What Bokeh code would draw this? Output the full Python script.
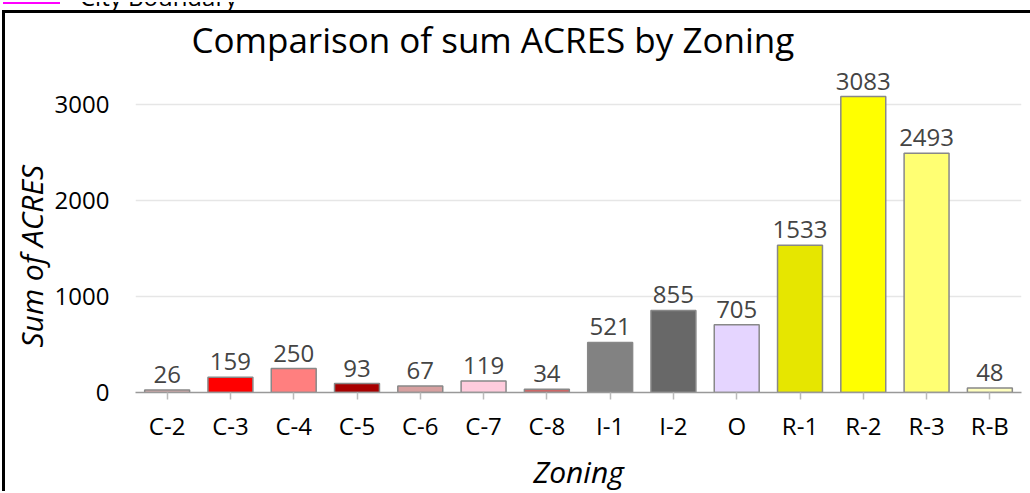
from bokeh.plotting import figure
from bokeh.models import ColumnDataSource, FactorRange, Range1d, FixedTicker, Title, Div
from bokeh.layouts import column
from bokeh.core.properties import value
from bokeh.embed import file_html
from bokeh.resources import INLINE

categories = ["C-2", "C-3", "C-4", "C-5", "C-6", "C-7", "C-8", "I-1", "I-2", "O", "R-1", "R-2", "R-3", "R-B"]
acres = [26, 159, 250, 93, 67, 119, 34, 521, 855, 705, 1533, 3083, 2493, 48]
colors = ["#E0B2B2", "#FF0000", "#FF7F7F", "#A80000", "#D7A0A0", "#FFCCDD", "#CD6666",
          "#828282", "#686868", "#E5D5FF", "#E6E600", "#FFFF00", "#FFFF73", "#FFFFBE"]
y_ticks = [0, 1000, 2000, 3000]
legend_label = "City Boundary"

FONT = "Open Sans"

src = ColumnDataSource(dict(cat=categories, val=acres, color=colors,
                            lab=[str(v) for v in acres]))

p = figure(x_range=FactorRange(*categories, range_padding=0), y_range=Range1d(0, 3438),
           width=1025, height=478, output_backend="svg", toolbar_location=None,
           min_border_left=130, min_border_right=12, min_border_top=45, min_border_bottom=102)
p.outline_line_color = None
p.background_fill_color = "white"
p.styles = {"border-left": "3px solid #000000", "border-top": "3px solid #000000",
            "margin-left": "2px", "box-sizing": "content-box"}

p.vbar(x="cat", top="val", width=0.71, source=src, fill_color="color",
       line_color="#888888", line_width=1.5)
p.text(x="cat", y="val", text="lab", source=src, text_align="center", text_baseline="bottom",
       y_offset=-7, text_color="#444444", text_font=value(FONT), text_font_size="24px")

p.title.text = "Comparison of sum ACRES by Zoning"
p.title.align = "left"
p.title.offset = 56
p.title.standoff = 0
p.title.text_font = FONT
p.title.text_font_size = "35px"
p.title.text_font_style = "normal"
p.title.text_color = "#000000"

ytitle = Title(text="Sum of ACRES", align="left", offset=45, standoff=0,
               text_font=FONT, text_font_size="30px", text_font_style="italic",
               text_color="#000000")
p.add_layout(ytitle, "left")

# axes
p.xgrid.grid_line_color = None
p.ygrid.grid_line_color = "#e6e6e6"
p.ygrid.grid_line_width = 1.5
p.yaxis.ticker = FixedTicker(ticks=y_ticks)
p.yaxis.axis_line_color = None
p.yaxis.major_tick_line_color = None
p.yaxis.major_tick_out = 0
p.yaxis.major_tick_in = 0
p.yaxis.minor_tick_line_color = None
p.yaxis.major_label_standoff = 26
p.yaxis.major_label_text_font = FONT
p.yaxis.major_label_text_font_size = "24px"
p.yaxis.major_label_text_color = "#000000"

p.xaxis.axis_line_color = "#999999"
p.xaxis.axis_line_width = 1.5
p.xaxis.major_tick_line_color = "#bbbbbb"
p.xaxis.major_tick_line_width = 1.5
p.xaxis.major_tick_out = 7
p.xaxis.major_tick_in = 0
p.xaxis.major_label_standoff = 9
p.xaxis.major_label_text_font = FONT
p.xaxis.major_label_text_font_size = "24px"
p.xaxis.major_label_text_color = "#000000"
p.xaxis.axis_label = "Zoning"
p.xaxis.axis_label_text_font = FONT
p.xaxis.axis_label_text_font_style = "italic"
p.xaxis.axis_label_text_font_size = "30px"
p.xaxis.axis_label_text_color = "#000000"
p.xaxis.axis_label_standoff = 6

# clipped legend strip above the chart
legend_html = (
    '<div style="position:relative;width:1025px;height:10px;overflow:hidden;">'
    '<div style="position:absolute;left:3px;top:-20px;width:57px;height:22px;'
    'border:2px solid #FF00FF;"></div>'
    '<div style="position:absolute;left:80px;top:-22px;font-family:\'Open Sans\';'
    'font-size:24px;line-height:33px;color:#000000;white-space:nowrap;">'
    + legend_label + '</div></div>'
)
legend_div = Div(text=legend_html, width=1025, height=10,
                 styles={"overflow": "hidden", "margin": "0", "padding": "0"})

layout = column(legend_div, p, spacing=0)

open("out.html", "w").write(file_html(layout, INLINE))
